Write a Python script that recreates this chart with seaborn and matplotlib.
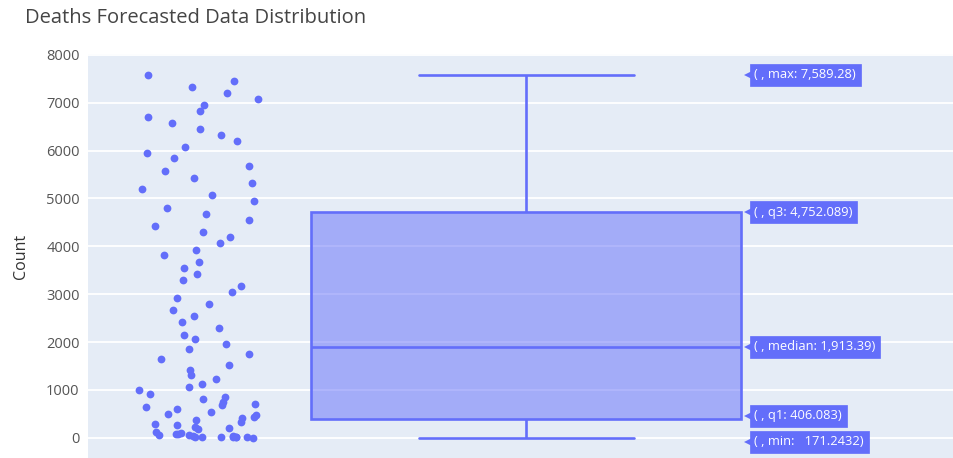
import numpy as np
import pandas as pd
import matplotlib
matplotlib.use("Agg")
import matplotlib.pyplot as plt
import matplotlib.transforms as mtransforms
import seaborn as sns

# ---- data ----
deaths = [
    7588, 7456, 7337, 7205, 7080, 6961, 6835, 6703, 6578, 6453, 6321, 6202, 6077, 5957, 5840,
    5686, 5568, 5435, 5317, 5192, 5067, 4941, 4808, 4676, 4557, 4432, 4306, 4189, 4063, 3923, 3810,
    3666, 3554, 3428, 3303, 3171, 3039, 2914, 2788, 2669, 2544, 2418, 2287, 2153, 2057, 1952, 1860,
    1743, 1645, 1526, 1421, 1317, 1221, 1122, 1053, 997, 920, 857, 815, 753, 704, 677, 635, 594,
    543, 502, 474, 439, 405, 370, 328, 286, 259, 230, 196, 176, 125, 105, 84, 71, 56, 50, 42,
    30, 22, 18, 15, 12, 10, 8, 5, 3,
]
stat_names = ["max", "q3", "median", "q1", "min"]
stat_texts = ["( , max: 7,589.28)", "( , q3: 4,752.089)", "( , median: 1,913.39)",
              "( , q1: 406.083)", "( , min:   171.2432)"]
y_ticks = [0, 1000, 2000, 3000, 4000, 5000, 6000, 7000, 8000]
title = "Deaths Forecasted Data Distribution"
y_label = "Count"

# ---- style ----
BLUE = "#636efa"
BG = "#e5ecf6"
FONT = ["Open Sans", "DejaVu Sans"]

sns.set_theme(style="white")
plt.rcParams["font.family"] = FONT

fig = plt.figure(figsize=(9.54, 4.58), dpi=100)
ax = fig.add_axes([88 / 954, 0, 866 / 954, (458 - 54) / 458])
ax.set_facecolor(BG)

df = pd.DataFrame({"deaths": deaths})
BOX_X, BOX_W = 0.506, 0.4965
STRIP_X = 0.129
df["box_x"] = BOX_X
df["strip_x"] = STRIP_X

sns.boxplot(data=df, x="box_x", y="deaths", native_scale=True, width=BOX_W,
            whis=np.inf, showfliers=False, ax=ax, zorder=3,
            boxprops=dict(facecolor=(0.388, 0.431, 0.980, 0.5), edgecolor=BLUE, linewidth=1.9),
            medianprops=dict(color=BLUE, linewidth=1.9),
            whiskerprops=dict(color=BLUE, linewidth=1.9),
            capprops=dict(color=BLUE, linewidth=1.9))

np.random.seed(7)
sns.stripplot(data=df, x="strip_x", y="deaths", native_scale=True, jitter=0.07,
              color=BLUE, size=5.6, linewidth=0, ax=ax, zorder=4)

ax.set_xlim(0, 1)
ax.set_ylim(-424, 8020)
ax.set_yticks(y_ticks)
ax.set_yticklabels([str(t) for t in y_ticks])
ax.tick_params(axis="y", length=0, pad=6, labelsize=10.5, labelcolor="#555555")
ax.set_xticks([])
ax.set_xlabel("")
ax.set_ylabel(y_label, fontsize=11.5, color="#333333", labelpad=12)
ax.grid(axis="y", color="white", linewidth=1.3, zorder=0)
ax.set_axisbelow(True)
for s in ax.spines.values():
    s.set_visible(False)

fig.text(25 / 954, 1 - 18 / 458, title, fontsize=14.5, color="#444444", va="center", ha="left")

# summary labels positioned at the computed statistics
vals = np.asarray(deaths, dtype=float)
q1, med, q3 = np.percentile(vals, [25, 50, 75])
stat_pos = {"max": vals.max(), "q3": q3, "median": med, "q1": q1, "min": vals.min()}
nudge = {"max": 0, "q3": 0, "median": 0, "q1": 2, "min": -3}
edge_x = BOX_X + BOX_W / 2
for name, txt in zip(stat_names, stat_texts):
    yv = stat_pos[name]
    dy = nudge[name]
    ax.annotate(txt, xy=(edge_x, yv), xytext=(9.5, dy), textcoords="offset points",
                fontsize=9.3, color="white", va="center", ha="left", zorder=6,
                bbox=dict(boxstyle="square,pad=0.35", fc=BLUE, ec=BLUE, lw=0.5))
    # triangular pointer of the hover-style label
    ax.plot([edge_x], [yv], marker="<", markersize=8, color=BLUE, linestyle="none",
            zorder=5, markeredgewidth=0,
            transform=ax.transData + mtransforms.ScaledTranslation(
                6.0 / 72, dy / 72, fig.dpi_scale_trans))

fig.savefig("out.png", dpi=100, facecolor="white")
